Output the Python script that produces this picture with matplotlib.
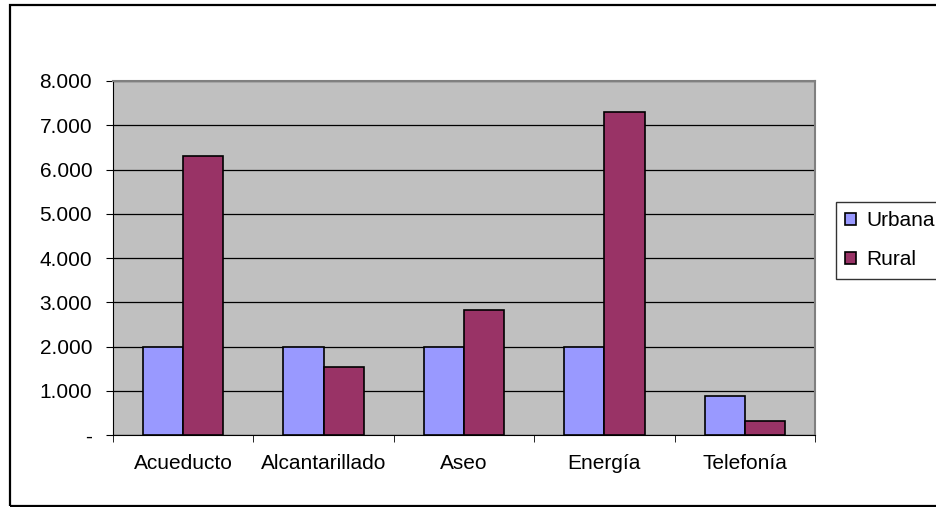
import numpy as np
import matplotlib
matplotlib.use('Agg')
import matplotlib.pyplot as plt
from matplotlib.patches import Rectangle

plt.rcParams['font.family'] = ['Liberation Sans', 'DejaVu Sans']

# data
categories = ["Acueducto", "Alcantarillado", "Aseo", "Energía", "Telefonía"]
urbana = [1990, 1990, 1990, 1990, 880]
rural = [6300, 1540, 2820, 7300, 320]
series_names = ["Urbana", "Rural"]
yticks = [0, 1000, 2000, 3000, 4000, 5000, 6000, 7000, 8000]

W, H = 936, 507
fig = plt.figure(figsize=(W / 100, H / 100), dpi=100)
fig.patch.set_facecolor("white")

# outer chart border
fig.add_artist(Rectangle((10 / W, 1 - 506 / H), (W + 20) / W, 501 / H,
                         transform=fig.transFigure, fill=False,
                         edgecolor="black", linewidth=1.6))

ax = fig.add_axes([113 / W, 1 - 435 / H, (815 - 113) / W, (435 - 81) / H])
ax.set_facecolor("#c0c0c0")

x = np.arange(len(categories))
bw = 1 / 3.5
ax.bar(x - bw / 2, urbana, bw, color="#9999ff", edgecolor="black", linewidth=1.2,
       label=series_names[0], zorder=3)
ax.bar(x + bw / 2, rural, bw, color="#993366", edgecolor="black", linewidth=1.2,
       label=series_names[1], zorder=3)

ax.set_xlim(-0.5, len(categories) - 0.5)
ax.set_ylim(0, 8000)
ax.set_yticks(yticks)
ax.set_yticklabels(["-" if v == 0 else f"{v:,}".replace(",", ".") for v in yticks])
ax.yaxis.grid(True, color="black", linewidth=0.9, zorder=1)
ax.set_axisbelow(True)

ax.set_xticks(x)
ax.set_xticklabels(categories)
ax.set_xticks(np.arange(len(categories) + 1) - 0.5, minor=True)
ax.tick_params(axis="x", which="major", length=0, pad=14, labelsize=15)
ax.tick_params(axis="x", which="minor", length=5, direction="out", color="black")
ax.tick_params(axis="y", length=5, direction="out", pad=10, labelsize=15)

for s in ["top", "right"]:
    ax.spines[s].set_color("#808080")
    ax.spines[s].set_linewidth(1.5)
ax.spines["left"].set_color("black")
ax.spines["bottom"].set_color("black")

leg = fig.legend(loc="upper left", bbox_to_anchor=(836 / W, 1 - 202 / H),
                 frameon=True, fancybox=False, edgecolor="black",
                 fontsize=15, handlelength=0.5, handleheight=0.5,
                 handletextpad=0.5, borderpad=0.45, labelspacing=0.95,
                 borderaxespad=0)
leg.get_frame().set_linewidth(1.0)

fig.savefig("out.png", dpi=100)
